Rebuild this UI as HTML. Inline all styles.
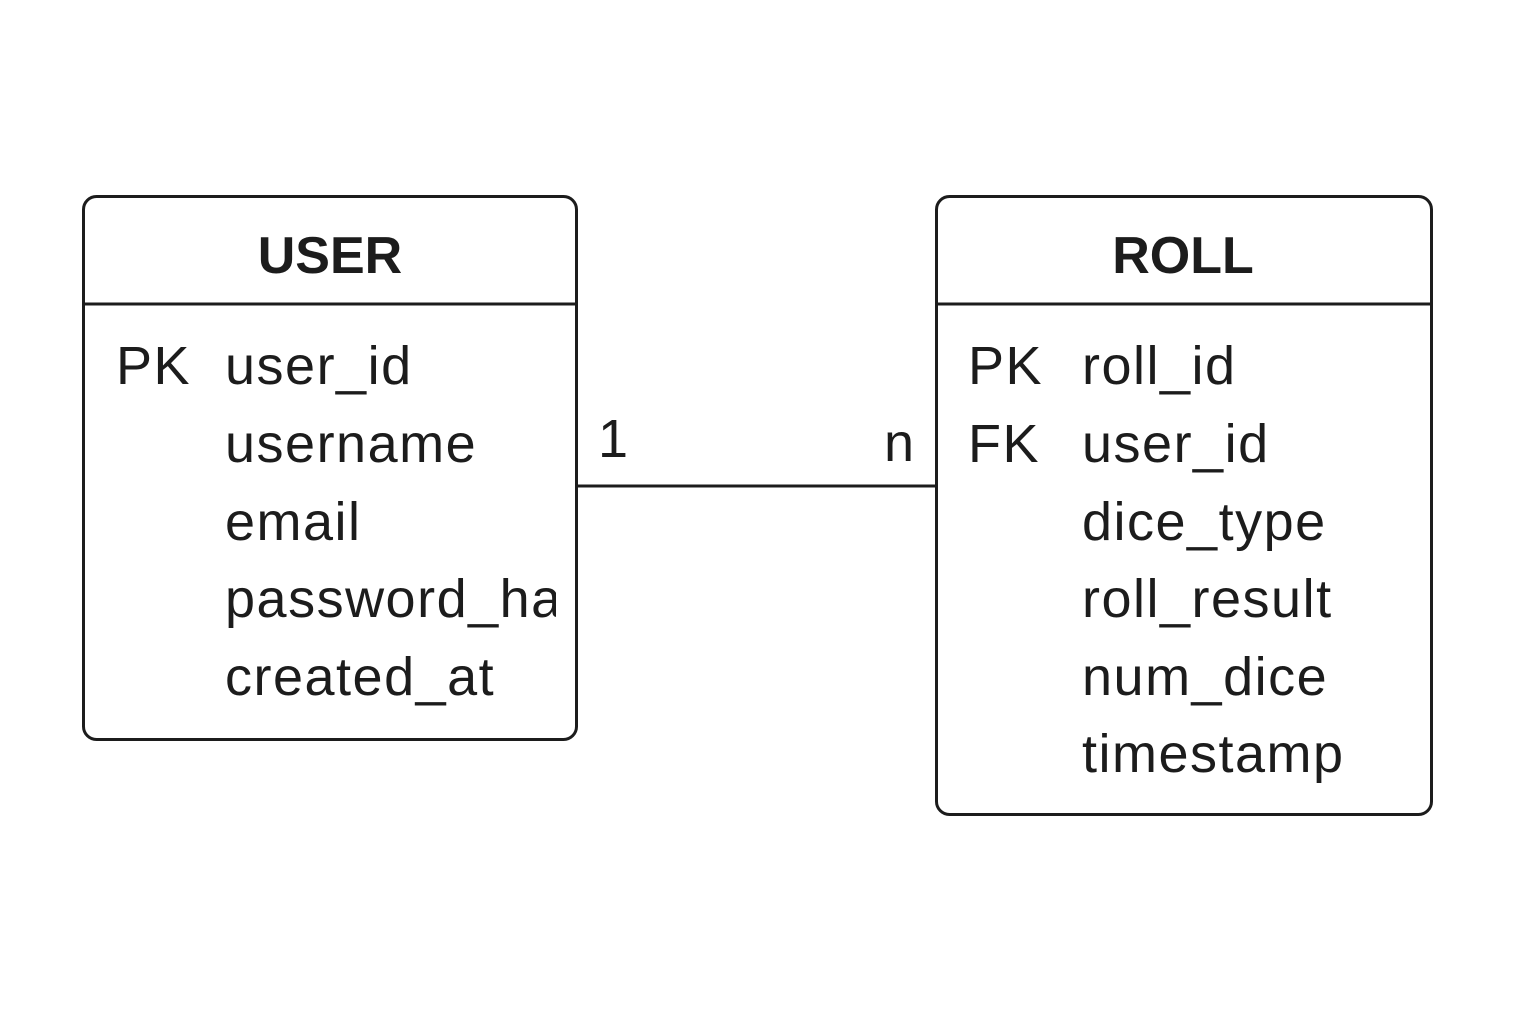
<!DOCTYPE html>
<html><head><meta charset="utf-8"><style>
html,body{margin:0;padding:0;background:#fff;}
text{font-family:"Liberation Sans",sans-serif;fill:#1c1c1c;}
</style></head><body>
<svg width="1536" height="1024" viewBox="0 0 1536 1024" xmlns="http://www.w3.org/2000/svg">
<defs><clipPath id="c1"><rect x="86" y="306" width="470" height="430"/></clipPath></defs>
<rect x="83.5" y="196.5" width="493" height="543" rx="13" fill="#fff" stroke="#1c1c1c" stroke-width="3"/>
<line x1="84" y1="304" x2="576" y2="304" stroke="#1c1c1c" stroke-width="3"/>
<rect x="936.5" y="196.5" width="495" height="618" rx="13" fill="#fff" stroke="#1c1c1c" stroke-width="3"/>
<line x1="937" y1="304" x2="1431" y2="304" stroke="#1c1c1c" stroke-width="3"/>
<line x1="577" y1="486" x2="936" y2="486" stroke="#1c1c1c" stroke-width="3"/>
<text x="330" y="273" font-size="52" font-weight="bold" text-anchor="middle">USER</text>
<text x="1183" y="273" font-size="52" font-weight="bold" text-anchor="middle">ROLL</text>
<g font-size="54" letter-spacing="1.5">
<text x="116" y="384">PK</text>
<g clip-path="url(#c1)">
<text x="225" y="384">user_id</text>
<text x="225" y="462">username</text>
<text x="225" y="540">email</text>
<text x="225" y="617">password_hash</text>
<text x="225" y="695">created_at</text>
</g>
<text x="968" y="384">PK</text>
<text x="968" y="462">FK</text>
<text x="1082" y="384">roll_id</text>
<text x="1082" y="462">user_id</text>
<text x="1082" y="540">dice_type</text>
<text x="1082" y="617">roll_result</text>
<text x="1082" y="695">num_dice</text>
<text x="1082" y="772">timestamp</text>
<text x="598" y="457">1</text>
<text x="884" y="461">n</text>
</g>
</svg>
</body></html>
